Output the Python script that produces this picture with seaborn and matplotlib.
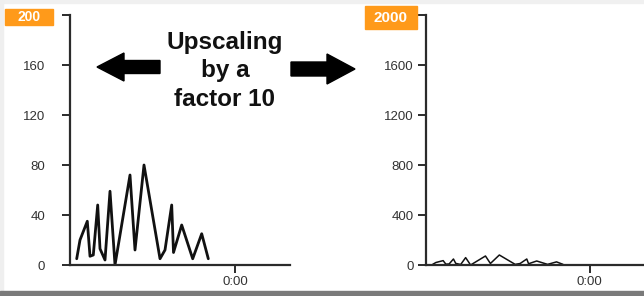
import numpy as np
import pandas as pd
import matplotlib
matplotlib.use("Agg")
import matplotlib.pyplot as plt
import seaborn as sns
from matplotlib.patches import Polygon, Rectangle

# ---- data ----
minutes = [-158.3, -155, -147.7, -145, -141.7, -137.3, -135, -130, -125, -120,
           -105, -100, -91, -75, -70, -63.3, -61.5, -53.3, -42.3, -33.3, -26.7]
values = [5, 20, 35, 7, 8, 48, 13, 4, 59, 0,
          72, 12, 80, 5, 12, 48, 10, 32, 5, 25, 5]
left_ticks = [0, 40, 80, 120, 160, 200]
right_ticks = [0, 400, 800, 1200, 1600, 2000]
x_tick_labels = ["0:00"]
title_text = "Upscaling\nby a\nfactor 10"

df = pd.DataFrame({"t": minutes, "v": values})

sns.set_theme(style="white")
plt.rcParams["font.family"] = ["Liberation Sans", "DejaVu Sans"]

W, H = 644, 296
fig = plt.figure(figsize=(W / 100, H / 100), dpi=100)
fig.patch.set_facecolor("white")

def fx(px):
    return px / W

def fy(py):
    return 1 - py / H

# frame decorations
fig.patches.append(Rectangle((0, fy(3)), 1, 3 / H, transform=fig.transFigure,
                             color="#f0f0f0", zorder=0))
fig.patches.append(Rectangle((0, 0), 3 / W, 1, transform=fig.transFigure,
                             color="#efefef", zorder=0))
fig.patches.append(Rectangle((0, 0), 1, 5 / H, transform=fig.transFigure,
                             color="#7a7a7a", zorder=0))

dark = "#2b2b2b"

def setup(ax, ymax, ticks, pad):
    ax.set_xlim(-165, 55)
    ax.set_ylim(0, ymax)
    for s in ["top", "right"]:
        ax.spines[s].set_visible(False)
    for s in ["left", "bottom"]:
        ax.spines[s].set_color(dark)
        ax.spines[s].set_linewidth(1.6)
    ax.set_yticks(ticks)
    ax.set_yticklabels([str(t) for t in ticks[:-1]] + [""])
    ax.set_xticks([0])
    ax.set_xticklabels(x_tick_labels)
    ax.tick_params(axis="y", direction="out", length=6, width=1.4, color=dark,
                   labelsize=9.5, labelcolor="#333333", pad=pad, left=True)
    ax.tick_params(axis="x", direction="out", length=6, width=1.4, color=dark,
                   labelsize=9.5, labelcolor="#333333", pad=2, bottom=True)
    ax.set_xlabel("")
    ax.set_ylabel("")
    ax.set_facecolor("none")

# left panel
ax1 = fig.add_axes([fx(70), fy(265), fx(290) - fx(70), (265 - 15) / H])
sns.lineplot(data=df, x="t", y="v", ax=ax1, color="#111111", linewidth=2.0,
             sort=False, estimator=None)
setup(ax1, 200, left_ticks, 12)

# right panel
ax2 = fig.add_axes([fx(426), fy(265), fx(644) - fx(426), (265 - 15) / H])
sns.lineplot(data=df, x="t", y="v", ax=ax2, color="#111111", linewidth=1.1,
             sort=False, estimator=None)
setup(ax2, 2000, right_ticks, 3)

# orange max labels
orange = "#ff9a1a"
def badge(x0, x1, y0, y1, txt, fs):
    fig.patches.append(Rectangle((fx(x0), fy(y1)), fx(x1) - fx(x0), (y1 - y0) / H,
                                 transform=fig.transFigure, color=orange, zorder=1))
    fig.text(fx((x0 + x1) / 2), fy((y0 + y1) / 2), txt, ha="center", va="center",
             color="white", fontsize=fs, fontweight="bold", zorder=2)

badge(5, 53, 9, 25, str(left_ticks[-1]), 10)
badge(365, 417, 6, 29, str(right_ticks[-1]), 11)

# title text
fig.text(fx(225), fy(71), title_text, ha="center", va="center",
         fontsize=17.5, fontweight="bold", color="#111111", linespacing=1.33)

# arrows
def arrow(tip_x, tail_x, yc, head_len, head_h, tail_h):
    d = 1 if tail_x > tip_x else -1
    hb = tip_x + d * head_len
    pts = [(tip_x, yc), (hb, yc - head_h / 2), (hb, yc - tail_h / 2),
           (tail_x, yc - tail_h / 2), (tail_x, yc + tail_h / 2),
           (hb, yc + tail_h / 2), (hb, yc + head_h / 2)]
    fig.patches.append(Polygon([(fx(x), fy(y)) for x, y in pts], closed=True,
                               transform=fig.transFigure, color="black"))

arrow(97, 160, 67, 27, 28, 13)
arrow(355, 291, 69, 28, 30, 14)

fig.savefig("out.png", dpi=100, facecolor="white")
